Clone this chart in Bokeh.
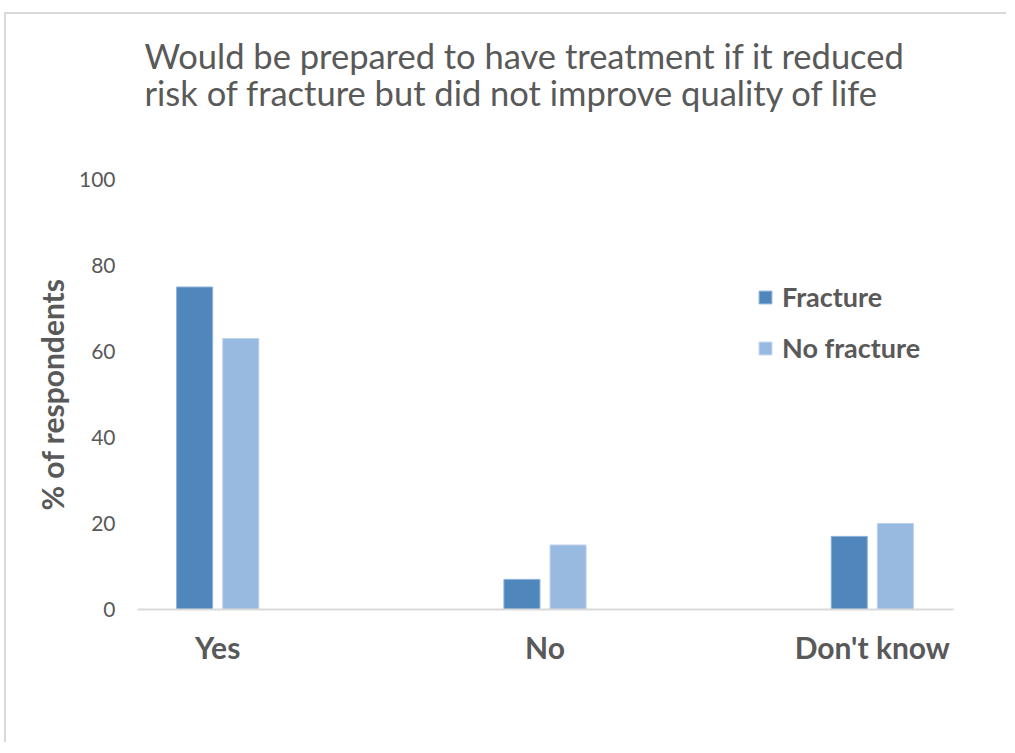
from bokeh.plotting import figure
from bokeh.models import (ColumnDataSource, FixedTicker, Legend, LegendItem, Title)
from bokeh.transform import dodge
from bokeh.embed import file_html
from bokeh.resources import INLINE

# Survey responses (% of respondents)
categories = ["Yes", "No", "Don't know"]
fracture = [75, 7, 17]
no_fracture = [63, 15, 20]
y_ticks = [0, 20, 40, 60, 80, 100]
series_names = ["Fracture", "No fracture"]
title_lines = ["Would be prepared to have treatment if it reduced",
               "risk of fracture but did not improve quality of life"]

TEXT = "#595959"
DARK = "#4F87BC"
LIGHT = "#98B9E0"
FONT = "Lato"

source = ColumnDataSource(dict(
    x=list(range(len(categories))),
    fracture=fracture,
    no_fracture=no_fracture,
))

p = figure(
    width=1000, height=728,
    x_range=(-0.245, 2.248), y_range=(0, 100),
    min_border_left=131, min_border_right=55,
    min_border_top=165, min_border_bottom=135,
    output_backend="svg", toolbar_location=None,
)
p.margin = (12, 0, 0, 4)
p.styles = {
    "box-sizing": "content-box",
    "overflow": "hidden",
    "vertical-align": "top",
    "border-top": "2px solid #D9D9D9",
    "border-left": "2px solid #D9D9D9",
}
p.outline_line_color = None
p.background_fill_color = "white"
p.border_fill_color = "white"
p.xgrid.grid_line_color = None
p.ygrid.grid_line_color = None

bar_w = 0.11
r1 = p.vbar(x=dodge("x", -0.0705), top="fracture", width=bar_w, source=source,
            fill_color=DARK, line_color="#8AB0D9", line_width=1)
r2 = p.vbar(x=dodge("x", 0.0705), top="no_fracture", width=bar_w, source=source,
            fill_color=LIGHT, line_color="#B9D0EC", line_width=1)

# category axis
xa = p.xaxis[0]
xa.ticker = FixedTicker(ticks=list(range(len(categories))))
xa.major_label_overrides = {i: c for i, c in enumerate(categories)}
xa.axis_line_color = "#D9D9D9"
xa.axis_line_width = 2
xa.major_tick_line_color = None
xa.minor_tick_line_color = None
xa.major_label_text_font = FONT
xa.major_label_text_font_style = "bold"
xa.major_label_text_font_size = "30px"
xa.major_label_text_color = TEXT
xa.major_label_standoff = 13

# value axis
ya = p.yaxis[0]
ya.ticker = FixedTicker(ticks=y_ticks)
ya.axis_line_color = None
ya.major_tick_line_color = None
ya.minor_tick_line_color = None
ya.major_label_text_font = FONT
ya.major_label_text_font_size = "21px"
ya.major_label_text_color = TEXT
ya.major_label_standoff = 16
ya.axis_label = "% of respondents"
ya.axis_label_text_font = FONT
ya.axis_label_text_font_style = "bold"
ya.axis_label_text_font_size = "30px"
ya.axis_label_text_color = TEXT
ya.axis_label_standoff = 6

legend = Legend(
    items=[LegendItem(label=series_names[0], renderers=[r1]),
           LegendItem(label=series_names[1], renderers=[r2])],
    location=(620, 245),
    border_line_color=None, background_fill_alpha=0,
    padding=0, margin=0, spacing=18,
    glyph_width=16, glyph_height=16, label_height=27, label_standoff=9,
    label_text_font=FONT, label_text_font_style="bold",
    label_text_font_size="27px", label_text_color=TEXT,
)
p.add_layout(legend)

# blank strip between the heading and the plot area
p.add_layout(Title(text=" ", text_font_size="1px", standoff=61), "above")
# two-line heading
p.add_layout(Title(text="\n".join(title_lines), align="left", offset=7, standoff=4,
                   text_font=FONT, text_font_size="34.5px", text_font_style="normal",
                   text_line_height=0.92, text_color=TEXT), "above")

open("out.html", "w").write(file_html(p, INLINE))
